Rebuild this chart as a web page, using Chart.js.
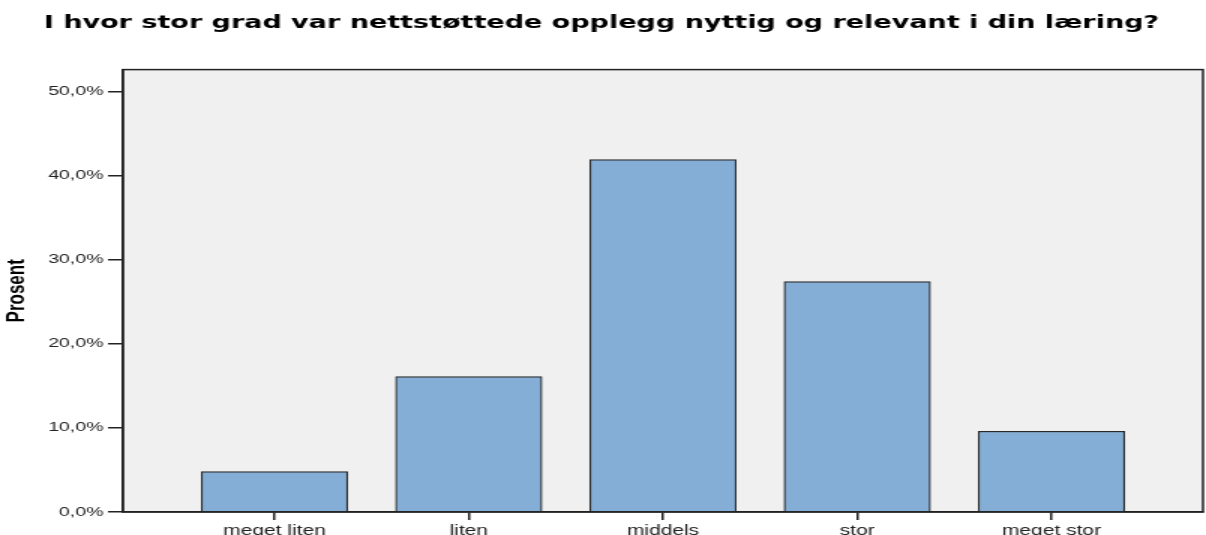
<!DOCTYPE html>
<html><head><meta charset="utf-8">
<script src="https://cdn.jsdelivr.net/npm/chart.js@4"></script>
<style>
html,body{margin:0;padding:0;background:#fff;overflow:hidden;width:1206px;height:535px;}
#wrap{position:absolute;left:0;top:0;width:804px;height:535px;transform:scaleX(1.5);transform-origin:0 0;}
</style></head><body>
<div id="wrap"><canvas id="c"></canvas></div>
<script>
const categories = ['meget liten', 'liten', 'middels', 'stor', 'meget stor'];
const percentValues = [4.8, 16.1, 41.9, 27.4, 9.6];
const yTickValues = [0, 10, 20, 30, 40, 50];
const titleText = 'I hvor stor grad var nettstøttede opplegg nyttig og relevant i din læring?';
const yAxisTitle = 'Prosent';

const plotFrame = {
  id: 'plotFrame',
  beforeDraw(chart) {
    const {ctx, chartArea: a} = chart;
    ctx.save();
    ctx.fillStyle = '#f0f0f0';
    ctx.fillRect(a.left, a.top, a.right - a.left, a.bottom - a.top);
    ctx.restore();
  },
  afterDraw(chart) {
    const {ctx, chartArea: a} = chart;
    ctx.save();
    ctx.strokeStyle = '#222';
    ctx.lineWidth = 1.5;
    ctx.strokeRect(a.left, a.top, a.right - a.left, a.bottom - a.top);
    ctx.restore();
  }
};

new Chart(document.getElementById('c'), {
  type: 'bar',
  data: {
    datasets: [{
      data: percentValues.map((v, i) => ({x: i + 1, y: v})),
      backgroundColor: '#84aed6',
      borderColor: '#2a2a2a',
      borderWidth: 1.2,
      borderSkipped: 'bottom',
      barThickness: 97.5
    }]
  },
  options: {
    responsive: true,
    maintainAspectRatio: false,
    animation: false,
    layout: {padding: {left: 0, right: 2, top: 0, bottom: 0}},
    plugins: {
      legend: {display: false},
      tooltip: {enabled: false},
      title: {
        display: true,
        text: titleText,
        color: '#000',
        font: {family: 'DejaVu Sans, Liberation Sans, Arial, sans-serif', weight: 'bold', size: 18},
        padding: {top: 13, bottom: 35}
      }
    },
    scales: {
      x: {
        type: 'linear',
        offset: false,
        min: 0.22,
        max: 5.78,
        afterBuildTicks(scale) { scale.ticks = categories.map((c, i) => ({value: i + 1})); },
        afterFit(scale) { scale.height = 23; },
        grid: {offset: false, drawOnChartArea: false, drawTicks: true, tickLength: 8, color: '#222', lineWidth: 1.5},
        border: {display: true, color: '#222', width: 1.5},
        ticks: {
          autoSkip: false, maxRotation: 0, padding: 3,
          color: '#222',
          font: {family: 'Liberation Sans, Arial, sans-serif', size: 14},
          callback: (v) => categories[Math.round(v) - 1] ?? ''
        }
      },
      y: {
        min: 0,
        max: 52.6,
        afterBuildTicks(scale) { scale.ticks = yTickValues.map(v => ({value: v})); },
        afterFit(scale) { scale.width = 82; },
        grid: {drawOnChartArea: false, drawTicks: true, tickLength: 10, color: '#222', lineWidth: 1.5},
        border: {display: true, color: '#222', width: 1.5},
        ticks: {
          padding: 3,
          color: '#222',
          font: {family: 'Liberation Sans, Arial, sans-serif', size: 13},
          callback: (v) => v.toFixed(1).replace('.', ',') + '%'
        },
        title: {
          display: true,
          text: yAxisTitle,
          color: '#000',
          font: {family: 'Liberation Sans Narrow, Liberation Sans, Arial, sans-serif', weight: 'bold', size: 17},
          padding: {top: 1, bottom: 0}
        }
      }
    }
  },
  plugins: [plotFrame]
});
</script>
</body></html>
